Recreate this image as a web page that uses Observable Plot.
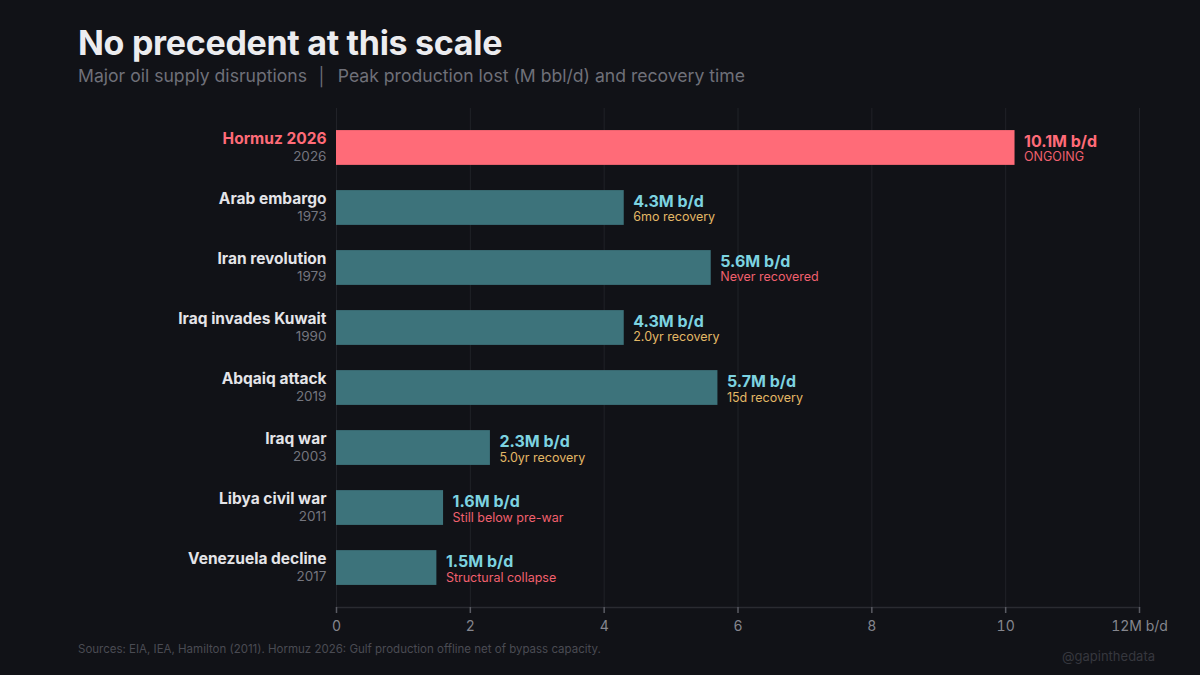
<!DOCTYPE html>
<html>
<head>
<meta charset="utf-8">
<script src="https://cdn.jsdelivr.net/npm/d3@7"></script>
<script src="https://cdn.jsdelivr.net/npm/@observablehq/plot@0.6"></script>
<style>
  html, body { margin: 0; padding: 0; background: #111217; }
  #wrap { position: relative; width: 1200px; height: 675px; background: #111217; font-family: Inter, "Noto Sans", sans-serif; overflow: hidden; }
  #title { position: absolute; left: 78px; top: 22px; font-size: 34px; font-weight: 700; color: #ececef; letter-spacing: -0.3px; }
  #subtitle { position: absolute; left: 78px; top: 65px; font-size: 17.6px; color: #6f7079; }
  #source { position: absolute; left: 78px; top: 642px; font-size: 11.5px; color: #4a4b53; }
  #handle { position: absolute; left: 1062px; top: 648px; font-size: 13px; color: #36373e; }
  #chart { position: absolute; left: 0; top: 0; }
</style>
</head>
<body>
<div id="wrap">
  <div id="chart"></div>
  <div id="title">No precedent at this scale</div>
  <div id="subtitle">Major oil supply disruptions &nbsp;│&nbsp; Peak production lost (M bbl/d) and recovery time</div>
  <div id="source">Sources: EIA, IEA, Hamilton (2011). Hormuz 2026: Gulf production offline net of bypass capacity.</div>
  <div id="handle">@gapinthedata</div>
</div>
<script>
const events = ["Hormuz 2026", "Arab embargo", "Iran revolution", "Iraq invades Kuwait", "Abqaiq attack", "Iraq war", "Libya civil war", "Venezuela decline"];
const years = ["2026", "1973", "1979", "1990", "2019", "2003", "2011", "2017"];
const lost = [10.14, 4.3, 5.6, 4.3, 5.7, 2.3, 1.6, 1.5];
const recovery = ["ONGOING", "6mo recovery", "Never recovered", "2.0yr recovery", "15d recovery", "5.0yr recovery", "Still below pre-war", "Structural collapse"];
const recoveryKind = ["bad", "ok", "bad", "ok", "ok", "ok", "bad", "bad"];
const xTicks = [0, 2, 4, 6, 8, 10, 12];

const data = events.map((e, i) => ({
  name: e, year: years[i], value: lost[i], rec: recovery[i], kind: recoveryKind[i],
  highlight: i === 0
}));

const RED = "#ff6b78", TEAL = "#3d737b", CYAN = "#7dd3e0", GOLD = "#e3b866", REDTXT = "#f0606e";
const FONT = "Inter, 'Noto Sans', sans-serif";

const chart = Plot.plot({
  width: 1200,
  height: 675,
  marginLeft: 336,
  marginRight: 61,
  marginTop: 108,
  marginBottom: 68,
  style: { background: "transparent", fontFamily: FONT, overflow: "visible" },
  x: { domain: [0, 12], axis: null },
  y: { domain: events, axis: null, paddingInner: 0.42, paddingOuter: 0.368, round: false },
  marks: [
    Plot.ruleX(xTicks, { stroke: "#212228", strokeWidth: 1 }),
    Plot.frame({ anchor: "bottom", stroke: "#2a2b31", strokeWidth: 1.5 }),
    Plot.barX(data, { x: "value", y: "name", fill: d => d.highlight ? RED : TEAL }),
    // category names
    Plot.text(data, { y: "name", text: "name", frameAnchor: "left", textAnchor: "end", dx: -10, dy: -9,
      fill: d => d.highlight ? RED : "#e4e4e8", fontWeight: 700, fontSize: 15.5 }),
    Plot.text(data, { y: "name", text: "year", frameAnchor: "left", textAnchor: "end", dx: -10, dy: 9,
      fill: "#74757e", fontSize: 13.5 }),
    // value labels
    Plot.text(data, { x: "value", y: "name", text: d => d.value.toFixed(1) + "M b/d", textAnchor: "start", dx: 9, dy: -6,
      fill: d => d.highlight ? RED : CYAN, fontWeight: 700, fontSize: 16 }),
    Plot.text(data, { x: "value", y: "name", text: "rec", textAnchor: "start", dx: 9, dy: 9.5,
      fill: d => d.kind === "ok" ? GOLD : REDTXT, fontSize: 12.5 }),
    // x axis
    Plot.axisX(xTicks, { ticks: xTicks, tickSize: 6, tickPadding: 8, stroke: "#5a5b63", strokeWidth: 1.5, fill: "#85868e", fontSize: 14,
      tickFormat: d => d === 12 ? "12M b/d" : String(d), anchor: "bottom", label: null })
  ]
});
document.getElementById("chart").appendChild(chart);
</script>
</body>
</html>
